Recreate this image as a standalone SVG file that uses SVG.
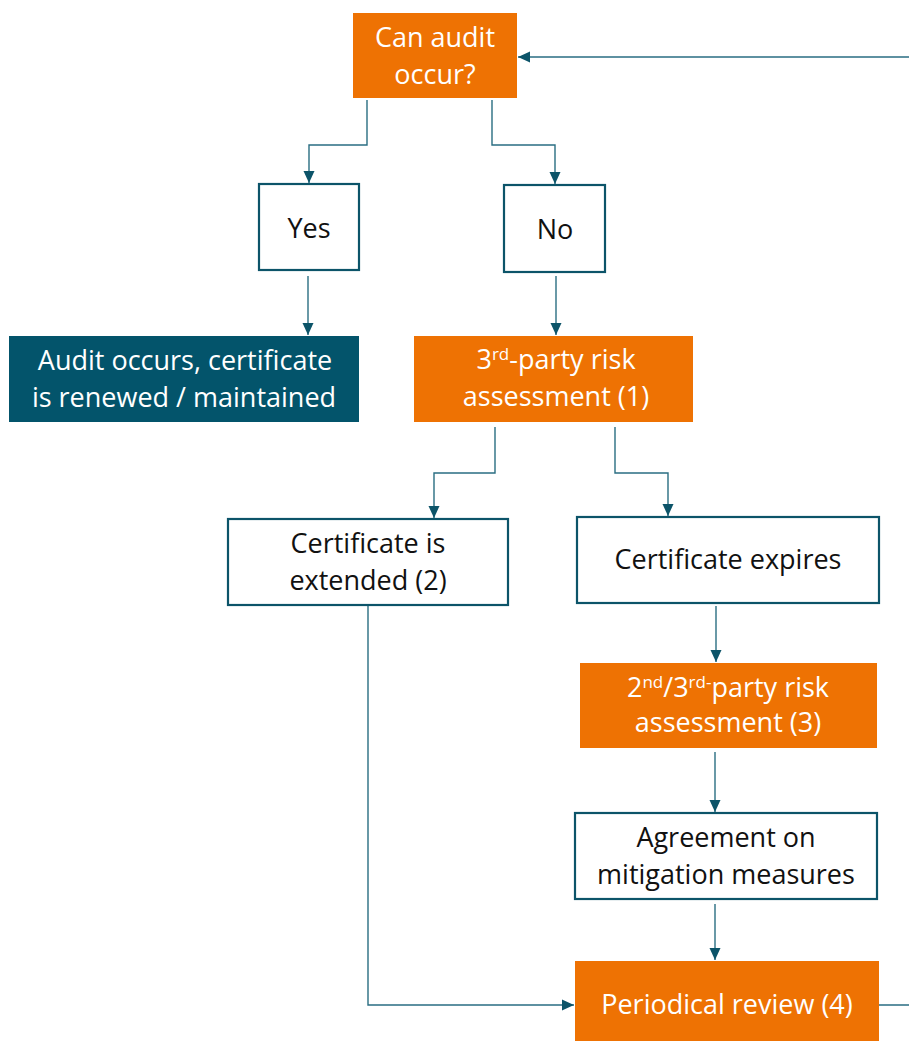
<svg xmlns="http://www.w3.org/2000/svg" width="909" height="1041" viewBox="0 0 909 1041">
<style>
.orange{fill:#EE7203;}
.teal{fill:#03546B;}
.white{fill:#FFFFFF;stroke:#0C5469;stroke-width:2.2;}
.t{font-family:"Open Sans","Liberation Sans",sans-serif;font-size:27px;text-anchor:middle;}
.tw{fill:#FFFFFF;}
.tk{fill:#111111;}
.con{fill:none;stroke:#2A6E82;stroke-width:1.4;}
</style>
<defs>
<marker id="arr" markerUnits="userSpaceOnUse" markerWidth="12" markerHeight="12" viewBox="0 0 12 12" refX="12" refY="6" orient="auto">
<path d="M0,0.5 L12,6 L0,11.5 Z" fill="#0C5469"/>
</marker>
</defs>
<rect width="909" height="1041" fill="#FFFFFF"/>
<g id="connectors">
<path class="con" d="M367,100 V145 H309 V183" marker-end="url(#arr)"/>
<path class="con" d="M492,100 V145 H555 V184" marker-end="url(#arr)"/>
<path class="con" d="M308,276 V335" marker-end="url(#arr)"/>
<path class="con" d="M556,276 V335" marker-end="url(#arr)"/>
<path class="con" d="M495,427 V473 H434 V518" marker-end="url(#arr)"/>
<path class="con" d="M615,427 V473 H668 V516" marker-end="url(#arr)"/>
<path class="con" d="M716,606 V662" marker-end="url(#arr)"/>
<path class="con" d="M715,752 V812" marker-end="url(#arr)"/>
<path class="con" d="M715,904 V960" marker-end="url(#arr)"/>
<path class="con" d="M368,606 V1005 H574" marker-end="url(#arr)"/>
<path class="con" d="M879,1005 H925 V57 H518" marker-end="url(#arr)"/>
</g>
<g id="can-audit">
<rect class="orange" x="353" y="13" width="164" height="85"/>
<text class="t tw" x="435" y="47">Can audit</text>
<text class="t tw" x="435" y="84">occur?</text>
</g>
<g id="yes">
<rect class="white" x="259" y="184" width="100" height="86"/>
<text class="t tk" x="309" y="238">Yes</text>
</g>
<g id="no">
<rect class="white" x="504" y="185" width="101" height="87"/>
<text class="t tk" x="555" y="239">No</text>
</g>
<g id="audit-occurs">
<rect class="teal" x="9" y="336" width="350" height="86"/>
<text class="t tw" x="185" y="370">Audit occurs, certificate</text>
<text class="t tw" x="184" y="407">is renewed / maintained</text>
</g>
<g id="risk-assessment-1">
<rect class="orange" x="414" y="336" width="279" height="86"/>
<text class="t tw" x="556" y="369">3<tspan dy="-9" font-size="17">rd</tspan><tspan dy="9">-party risk</tspan></text>
<text class="t tw" x="556" y="406">assessment (1)</text>
</g>
<g id="certificate-extended">
<rect class="white" x="228" y="519" width="280" height="86"/>
<text class="t tk" x="368" y="553">Certificate is</text>
<text class="t tk" x="368" y="590">extended (2)</text>
</g>
<g id="certificate-expires">
<rect class="white" x="577" y="517" width="302" height="86"/>
<text class="t tk" x="728" y="569">Certificate expires</text>
</g>
<g id="risk-assessment-3">
<rect class="orange" x="580" y="663" width="297" height="85"/>
<text class="t tw" x="728" y="697">2<tspan dy="-9" font-size="17">nd</tspan><tspan dy="9">/3</tspan><tspan dy="-9" font-size="17">rd-</tspan><tspan dy="9">party risk</tspan></text>
<text class="t tw" x="728" y="732">assessment (3)</text>
</g>
<g id="agreement">
<rect class="white" x="575" y="813" width="302" height="86"/>
<text class="t tk" x="726" y="847">Agreement on</text>
<text class="t tk" x="726" y="884">mitigation measures</text>
</g>
<g id="periodical-review">
<rect class="orange" x="575" y="961" width="304" height="85"/>
<text class="t tw" x="727" y="1014">Periodical review (4)</text>
</g>
</svg>
